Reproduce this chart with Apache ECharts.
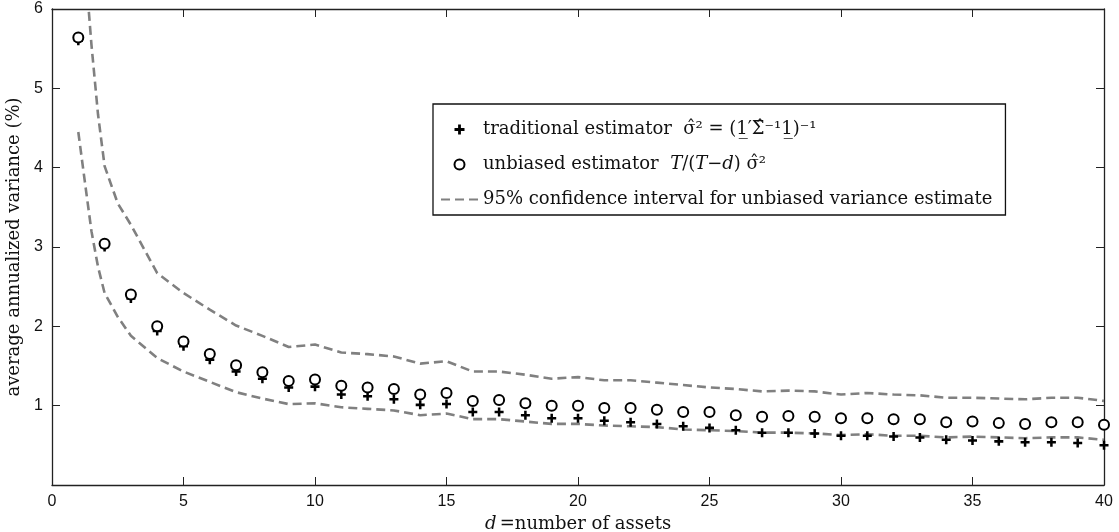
<!DOCTYPE html>
<html>
<head>
<meta charset="utf-8">
<script src="https://cdn.jsdelivr.net/npm/echarts@6/dist/echarts.min.js"></script>
<style>
html,body{margin:0;padding:0;background:#fff;}
#chart{width:1119px;height:532px;}
</style>
</head>
<body>
<div id="chart"></div>
<script>
// number of assets
var assets = [1,2,3,4,5,6,7,8,9,10,11,12,13,14,15,16,17,18,19,20,21,22,23,24,25,26,27,28,29,30,31,32,33,34,35,36,37,38,39,40];
// traditional estimator (+)
var traditional = [5.60,3.00,2.35,1.94,1.75,1.58,1.43,1.34,1.23,1.24,1.14,1.12,1.08,1.01,1.02,0.92,0.92,0.88,0.84,0.84,0.81,0.79,0.77,0.74,0.72,0.69,0.66,0.66,0.65,0.62,0.62,0.61,0.60,0.57,0.56,0.55,0.54,0.54,0.53,0.50];
// unbiased estimator (o)
var unbiased = [5.64,3.04,2.40,2.00,1.81,1.65,1.51,1.42,1.31,1.33,1.25,1.23,1.21,1.14,1.16,1.06,1.07,1.03,1.00,1.00,0.97,0.97,0.95,0.92,0.92,0.88,0.86,0.87,0.86,0.84,0.84,0.83,0.83,0.79,0.80,0.78,0.77,0.79,0.79,0.76];
// confidence interval curves
var ciD = [1,1.25,1.5,1.75,2,2.5,3,4,5,6,7,8,9,10,11,12,13,14,15,16,17,18,19,20,21,22,23,24,25,26,27,28,29,30,31,32,33,34,35,36,37,38,39,40];
var ciUpper = [7.9,6.6,5.55,4.67,4.02,3.55,3.28,2.67,2.42,2.21,2.01,1.88,1.74,1.77,1.67,1.65,1.62,1.53,1.56,1.43,1.43,1.39,1.34,1.36,1.32,1.32,1.29,1.26,1.23,1.21,1.18,1.19,1.18,1.14,1.16,1.14,1.13,1.10,1.10,1.09,1.08,1.10,1.10,1.06];
var ciLower = [4.45,3.82,3.2,2.75,2.42,2.12,1.88,1.60,1.43,1.30,1.17,1.09,1.02,1.03,0.98,0.96,0.94,0.88,0.90,0.83,0.83,0.80,0.77,0.77,0.75,0.74,0.73,0.70,0.69,0.68,0.66,0.66,0.65,0.63,0.64,0.62,0.62,0.60,0.61,0.60,0.59,0.60,0.60,0.57];
var xTicks = [0,5,10,15,20,25,30,35,40];
var yTicks = [1,2,3,4,5,6];

var nameTrad = 'traditional';
var nameUnb = 'unbiased';
var nameCI = 'ci';

function pairs(xs, ys){ return xs.map(function(x,i){ return [x, ys[i]]; }); }

var plusPath = 'path://M0.36,0 H0.64 V0.36 H1 V0.64 H0.64 V1 H0.36 V0.64 H0 V0.36 H0.36 Z';
var serif = '"DejaVu Serif", "Liberation Serif", serif';
var sans = '"Liberation Sans", Arial, sans-serif';
var axisColor = '#222';

var chart = echarts.init(document.getElementById('chart'), null, {renderer:'canvas'});
var option = {
  animation: false,
  backgroundColor: '#fff',
  grid: {left: 52, right: 15, top: 9, bottom: 47, containLabel: false, outerBoundsMode: 'none'},
  xAxis: [{
    type: 'value', min: 0, max: 40, interval: 5, position: 'bottom',
    axisLine: {show: true, onZero: false, lineStyle: {color: axisColor, width: 1.3}},
    axisTick: {show: true, inside: true, length: 8, lineStyle: {color: axisColor, width: 1}},
    axisLabel: {color: '#111', fontFamily: sans, fontSize: 16, margin: 9,
      formatter: function(v){ return xTicks.indexOf(v) >= 0 ? String(v) : ''; }},
    splitLine: {show: false},
    name: '{i|d} {n|=number of assets}', nameLocation: 'middle', nameGap: 29,
    nameTextStyle: {rich: {
      i: {fontFamily: serif, fontStyle: 'italic', fontSize: 18, color: '#111'},
      n: {fontFamily: serif, fontSize: 18, color: '#111'}
    }}
  },{
    type: 'value', min: 0, max: 40, interval: 5, position: 'top',
    axisLine: {show: true, onZero: false, lineStyle: {color: axisColor, width: 1.3}},
    axisTick: {show: true, inside: true, length: 8, lineStyle: {color: axisColor, width: 1}},
    axisLabel: {show: false}, splitLine: {show: false}
  }],
  yAxis: [{
    type: 'value', min: 0, max: 6, interval: 1, position: 'left',
    axisLine: {show: true, onZero: false, lineStyle: {color: axisColor, width: 1.3}},
    axisTick: {show: true, inside: true, length: 8, lineStyle: {color: axisColor, width: 1}},
    axisLabel: {color: '#111', fontFamily: sans, fontSize: 16, margin: 9,
      formatter: function(v){ return yTicks.indexOf(v) >= 0 ? String(v) : ''; }},
    splitLine: {show: false},
    name: 'average annualized variance (%)', nameLocation: 'middle', nameGap: 23,
    nameTextStyle: {fontFamily: serif, fontSize: 18, color: '#111'}
  },{
    type: 'value', min: 0, max: 6, interval: 1, position: 'right',
    axisLine: {show: true, onZero: false, lineStyle: {color: axisColor, width: 1.3}},
    axisTick: {show: true, inside: true, length: 8, lineStyle: {color: axisColor, width: 1}},
    axisLabel: {show: false}, splitLine: {show: false}
  }],
  legend: {
    orient: 'vertical', left: 433, top: 104,
    padding: [15, 13, 5, 7],
    itemGap: 14, itemWidth: 37, itemHeight: 10,
    backgroundColor: '#fff', borderColor: '#111', borderWidth: 1.3,
    data: [nameTrad, nameUnb, {name: nameCI, itemStyle: {opacity: 0}}],
    selectedMode: false,
    formatter: function(name){
      if (name === nameTrad) return '{n|traditional estimator  σ̂² = (1̲′Σ̂⁻¹1̲)⁻¹}';
      if (name === nameUnb) return '{n|unbiased estimator  }{i|T}{n|/(}{i|T}{n|−}{i|d}{n|) σ̂²}';
      return '{n|95% confidence interval for unbiased variance estimate}';
    },
    textStyle: {
      color: '#111', fontFamily: serif, fontSize: 18, lineHeight: 21,
      rich: {
        n: {fontFamily: serif, fontSize: 18, color: '#111', lineHeight: 21},
        i: {fontFamily: serif, fontStyle: 'italic', fontSize: 18, color: '#111', lineHeight: 21}
      }
    }
  },
  series: [{
    name: nameCI, type: 'line', data: pairs(ciD, ciUpper),
    symbol: 'none', showSymbol: false, clip: true, z: 1,
    lineStyle: {color: '#808080', width: 2.6, type: [9, 5]},
    itemStyle: {color: '#808080'}
  },{
    name: nameCI, type: 'line', data: pairs(ciD, ciLower),
    symbol: 'none', showSymbol: false, clip: true, z: 1,
    lineStyle: {color: '#808080', width: 2.6, type: [9, 5]},
    itemStyle: {color: '#808080'}
  },{
    name: nameTrad, type: 'scatter', data: pairs(assets, traditional),
    symbol: plusPath, symbolSize: 9, z: 3,
    itemStyle: {color: '#000', opacity: 1}
  },{
    name: nameUnb, type: 'scatter', data: pairs(assets, unbiased),
    symbol: 'emptyCircle', symbolSize: 10, z: 4,
    itemStyle: {color: '#000', borderColor: '#000', borderWidth: 2.6, opacity: 1}
  }]
};
chart.setOption(option);
</script>
</body>
</html>
